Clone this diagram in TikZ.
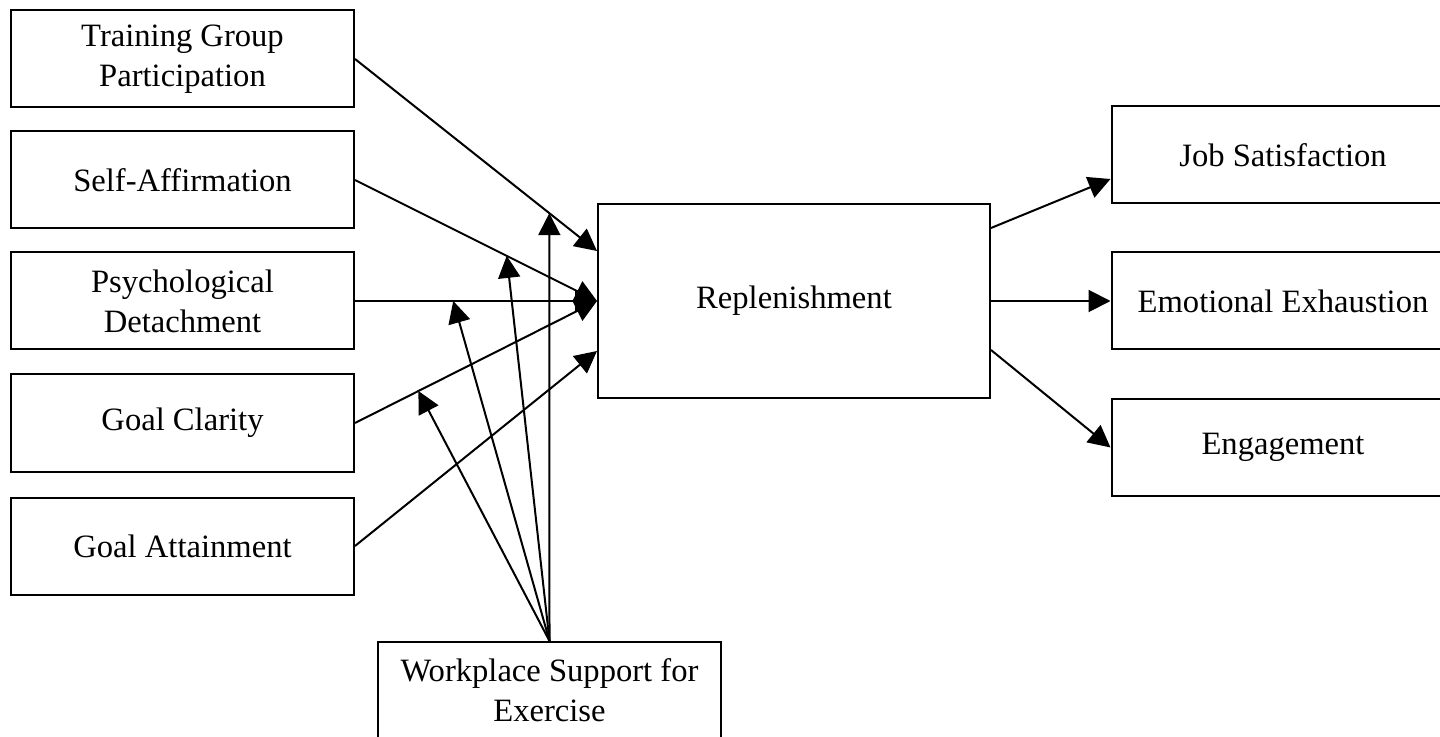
\documentclass[tikz,border=0pt]{standalone}
\usepackage{fontspec}
\setmainfont{Liberation Serif}
\usetikzlibrary{arrows.meta}

\begin{document}
\begin{tikzpicture}[x=0.5pt,y=-0.5pt,
  box/.style={draw,line width=1pt,minimum width=171.5pt,minimum height=48.5pt,
    align=center,inner sep=2pt,font=\fontsize{16.3}{20}\selectfont},
  link/.style={line width=1pt,-{Triangle[length=11pt,width=11pt]}}]
  \useasboundingbox (0,0) rectangle (1440,737);

  % predictors
  \node[box] (TGP) at (182.5,59)    {Training Group\\Participation};
  \node[box] (SA)  at (182.5,180)   {Self-Affirmation};
  \node[box] (PD)  at (182.5,301)   {Psychological\\Detachment};
  \node[box] (GC)  at (182.5,423)   {Goal Clarity};
  \node[box] (GA)  at (182.5,546)   {Goal Attainment};

  % mediator
  \node[box,minimum width=196pt,minimum height=97pt] (REP) at (794,301) {Replenishment};

  % outcomes
  \node[box] (JS)  at (1283,155)   {Job Satisfaction};
  \node[box] (EE)  at (1283,301)   {Emotional Exhaustion};
  \node[box] (ENG) at (1283,447.5) {Engagement};

  % moderator
  \node[box] (WSE) at (549.5,690.5) {Workplace Support for\\Exercise};

  %% predictors -> replenishment
  \draw[link] (TGP.east) -- coordinate[pos=0.803] (M1) ([yshift=25pt]REP.west);
  \draw[link] (SA.east)  -- coordinate[pos=0.627] (M2) (REP.west);
  \draw[link] (PD.east)  -- coordinate[pos=0.406] (M3) (REP.west);
  \draw[link] (GC.east)  -- coordinate[pos=0.262] (M4) (REP.west);
  \draw[link] (GA.east)  -- ([yshift=-25pt]REP.west);

  %% replenishment -> outcomes
  \draw[link] ([yshift=36.5pt]REP.east) -- ([yshift=-12pt]JS.west);
  \draw[link] (REP.east) -- (EE.west);
  \draw[link] ([yshift=-24.5pt]REP.east) -- (ENG.west);

  %% moderation
  \draw[link] (WSE.north) -- (M1);
  \draw[link] (WSE.north) -- (M2);
  \draw[link] (WSE.north) -- (M3);
  \draw[link] (WSE.north) -- (M4);

\end{tikzpicture}
\end{document}
